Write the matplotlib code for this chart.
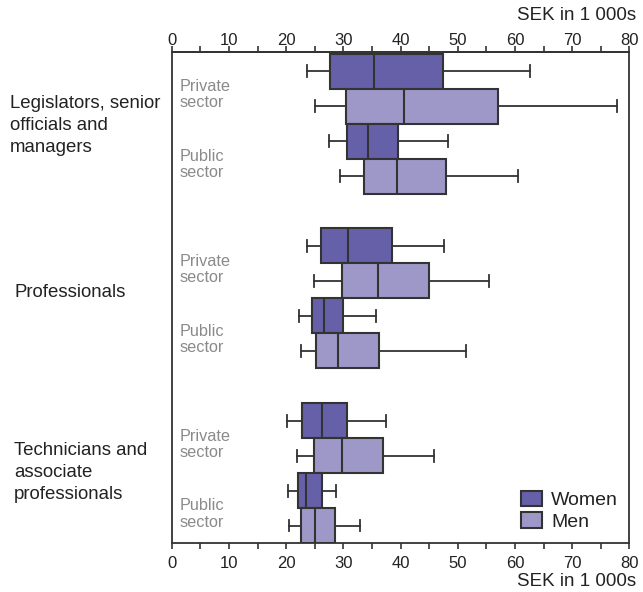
import matplotlib
matplotlib.use("Agg")
import matplotlib.pyplot as plt
from matplotlib.patches import Patch
import matplotlib.transforms as mtransforms

plt.rcParams['font.family'] = ['Liberation Sans', 'DejaVu Sans']

groups = ["Legislators, senior\nofficials and\nmanagers", "Professionals",
          "Technicians and\nassociate\nprofessionals"]
sectors = ["Private\nsector", "Public\nsector"]
series = ["Women", "Men"]
xticks = [0, 10, 20, 30, 40, 50, 60, 70, 80]
minor_ticks = [5, 15, 25, 35, 45, 55, 65, 75]
unit_label = "SEK in 1 000s"

# five-number summaries: whisker low, Q1, median, Q3, whisker high (per group)
women_private = [[23.7, 27.6, 35.4, 47.5, 62.7],
                 [23.6, 26.1, 30.9, 38.6, 47.6],
                 [20.1, 22.8, 26.3, 30.7, 37.4]]
men_private = [[25.0, 30.5, 40.6, 57.1, 77.9],
               [24.9, 29.7, 36.0, 44.9, 55.4],
               [21.9, 24.8, 29.8, 36.9, 45.8]]
women_public = [[27.5, 30.7, 34.4, 39.6, 48.3],
                [22.2, 24.5, 26.7, 30.0, 35.8],
                [20.4, 22.1, 23.5, 26.2, 28.8]]
men_public = [[29.4, 33.7, 39.4, 48.0, 60.5],
              [22.6, 25.3, 29.1, 36.3, 51.5],
              [20.5, 22.6, 25.0, 28.5, 32.9]]

women_color = "#6660a9"
men_color = "#9e98c9"
edge = "#333333"
text_color = "#222222"

fig = plt.figure(figsize=(6.43, 5.92), dpi=100)
ax = fig.add_axes([171.7/643, 1-543/592, 457.6/643, 491/592])

order = [(women_private, women_color), (men_private, men_color),
         (women_public, women_color), (men_public, men_color)]

for g in range(len(groups)):
    for k, (data, col) in enumerate(order):
        lo, q1, med, q3, hi = data[g]
        stats = [dict(whislo=lo, q1=q1, med=med, q3=q3, whishi=hi, fliers=[])]
        pos = g * 5 + k
        ax.bxp(stats, positions=[pos], widths=[1.0], capwidths=[0.34],
               orientation='horizontal', patch_artist=True, showfliers=False,
               boxprops=dict(facecolor=col, edgecolor=edge, linewidth=1.5),
               medianprops=dict(color=edge, linewidth=1.5),
               whiskerprops=dict(color=edge, linewidth=1.3),
               capprops=dict(color=edge, linewidth=1.3))

ax.set_xlim(0, 80)
ax.set_ylim(13.5, -0.55)
ax.set_yticks([])
ax.set_xticks(xticks)
ax.set_xticklabels([str(t) for t in xticks])
ax.set_xticks(minor_ticks, minor=True)
ax.tick_params(axis='x', which='both', direction='out', length=4.1, width=1.2,
               color=edge, top=False, labeltop=False, bottom=True, labelbottom=True,
               labelsize=12, labelcolor=text_color, pad=5.5)

sec = ax.secondary_xaxis('top')
sec.set_xticks(xticks)
sec.set_xticklabels([str(t) for t in xticks])
sec.set_xticks(minor_ticks, minor=True)
sec.tick_params(axis='x', which='both', direction='out', length=4.1, width=1.2,
                color=edge, labelsize=12, labelcolor=text_color, pad=-1.5)
sec.spines['top'].set_color(edge)
sec.spines['top'].set_linewidth(1.3)

for s in ax.spines.values():
    s.set_color(edge)
    s.set_linewidth(1.3)

fig.text(636.5/643, 1-15/592, unit_label, ha='right', va='center', fontsize=13.5, color=text_color)
fig.text(636.5/643, 1-581/592, unit_label, ha='right', va='center', fontsize=13.5, color=text_color)

trans = mtransforms.blended_transform_factory(fig.transFigure, ax.transData)
label_x = [10/643, 15/643, 14/643]
label_y = [1.556, 6.33, 11.48]
for g, name in enumerate(groups):
    fig.text(label_x[g], label_y[g], name, transform=trans, ha='left', va='center',
             fontsize=13.4, color=text_color, linespacing=1.4)
    for j, sname in enumerate(sectors):
        ax.text(1.3, g * 5 + j * 2 + 0.67, sname, ha='left', va='center', fontsize=11.7,
                color="#8a8a8a", linespacing=1.1)

handles = [Patch(facecolor=women_color, edgecolor=edge, linewidth=1.5, label=series[0]),
           Patch(facecolor=men_color, edgecolor=edge, linewidth=1.5, label=series[1])]
ax.legend(handles=handles, loc='lower right', bbox_to_anchor=(0.975, 0.025),
          frameon=False, fontsize=14, handlelength=1.1, handleheight=0.85,
          handletextpad=0.45, borderpad=0, borderaxespad=0, labelspacing=0.15,
          labelcolor=text_color)

fig.savefig("out.png", dpi=100)
